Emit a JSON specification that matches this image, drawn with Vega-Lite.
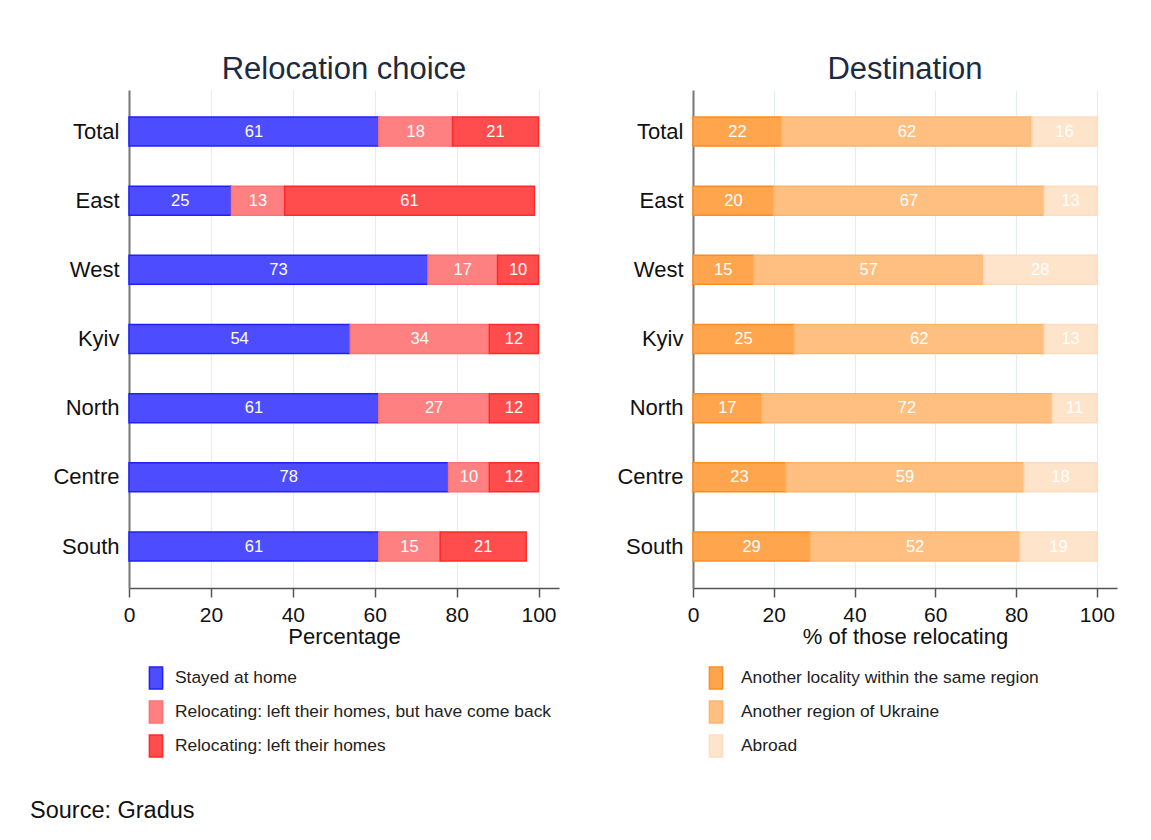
{
  "$schema": "https://vega.github.io/schema/vega-lite/v6.json",
  "background": "white",
  "padding": {"left": 30, "top": 54, "right": 5, "bottom": 5},
  "title": {"text": "Source: Gradus", "orient": "bottom", "anchor": "start", "frame": "group", "fontSize": 23.5, "fontWeight": "normal", "color": "#111111", "offset": 58, "dx": -99, "baseline": "alphabetic"},
  "datasets": {
    "choice": [
      {"region": "Total", "cat": "Stayed at home", "k": 1, "value": 61},
      {"region": "Total", "cat": "Relocating: left their homes, but have come back", "k": 2, "value": 18},
      {"region": "Total", "cat": "Relocating: left their homes", "k": 3, "value": 21},
      {"region": "East", "cat": "Stayed at home", "k": 1, "value": 25},
      {"region": "East", "cat": "Relocating: left their homes, but have come back", "k": 2, "value": 13},
      {"region": "East", "cat": "Relocating: left their homes", "k": 3, "value": 61},
      {"region": "West", "cat": "Stayed at home", "k": 1, "value": 73},
      {"region": "West", "cat": "Relocating: left their homes, but have come back", "k": 2, "value": 17},
      {"region": "West", "cat": "Relocating: left their homes", "k": 3, "value": 10},
      {"region": "Kyiv", "cat": "Stayed at home", "k": 1, "value": 54},
      {"region": "Kyiv", "cat": "Relocating: left their homes, but have come back", "k": 2, "value": 34},
      {"region": "Kyiv", "cat": "Relocating: left their homes", "k": 3, "value": 12},
      {"region": "North", "cat": "Stayed at home", "k": 1, "value": 61},
      {"region": "North", "cat": "Relocating: left their homes, but have come back", "k": 2, "value": 27},
      {"region": "North", "cat": "Relocating: left their homes", "k": 3, "value": 12},
      {"region": "Centre", "cat": "Stayed at home", "k": 1, "value": 78},
      {"region": "Centre", "cat": "Relocating: left their homes, but have come back", "k": 2, "value": 10},
      {"region": "Centre", "cat": "Relocating: left their homes", "k": 3, "value": 12},
      {"region": "South", "cat": "Stayed at home", "k": 1, "value": 61},
      {"region": "South", "cat": "Relocating: left their homes, but have come back", "k": 2, "value": 15},
      {"region": "South", "cat": "Relocating: left their homes", "k": 3, "value": 21}
    ],
    "dest": [
      {"region": "Total", "cat": "Another locality within the same region", "k": 1, "value": 22},
      {"region": "Total", "cat": "Another region of Ukraine", "k": 2, "value": 62},
      {"region": "Total", "cat": "Abroad", "k": 3, "value": 16},
      {"region": "East", "cat": "Another locality within the same region", "k": 1, "value": 20},
      {"region": "East", "cat": "Another region of Ukraine", "k": 2, "value": 67},
      {"region": "East", "cat": "Abroad", "k": 3, "value": 13},
      {"region": "West", "cat": "Another locality within the same region", "k": 1, "value": 15},
      {"region": "West", "cat": "Another region of Ukraine", "k": 2, "value": 57},
      {"region": "West", "cat": "Abroad", "k": 3, "value": 28},
      {"region": "Kyiv", "cat": "Another locality within the same region", "k": 1, "value": 25},
      {"region": "Kyiv", "cat": "Another region of Ukraine", "k": 2, "value": 62},
      {"region": "Kyiv", "cat": "Abroad", "k": 3, "value": 13},
      {"region": "North", "cat": "Another locality within the same region", "k": 1, "value": 17},
      {"region": "North", "cat": "Another region of Ukraine", "k": 2, "value": 72},
      {"region": "North", "cat": "Abroad", "k": 3, "value": 11},
      {"region": "Centre", "cat": "Another locality within the same region", "k": 1, "value": 23},
      {"region": "Centre", "cat": "Another region of Ukraine", "k": 2, "value": 59},
      {"region": "Centre", "cat": "Abroad", "k": 3, "value": 18},
      {"region": "South", "cat": "Another locality within the same region", "k": 1, "value": 29},
      {"region": "South", "cat": "Another region of Ukraine", "k": 2, "value": 52},
      {"region": "South", "cat": "Abroad", "k": 3, "value": 19}
    ]
  },
  "spacing": 57,
  "resolve": {"scale": {"color": "independent", "stroke": "independent", "x": "independent", "y": "independent"}},
  "hconcat": [
    {
      "width": 430,
      "height": 498,
      "data": {"name": "choice"},
      "title": {"text": "Relocation choice"},
      "encoding": {
        "y": {"field": "region", "type": "nominal", "sort": ["Total", "East", "West", "Kyiv", "North", "Centre", "South"], "scale": {"paddingInner": 0.58, "paddingOuter": 0.39}, "axis": {"title": null, "minExtent": 99, "maxExtent": 99}},
        "order": {"field": "k"}
      },
      "layer": [
        {
          "mark": {"type": "bar", "strokeWidth": 1.5},
          "encoding": {
            "x": {"field": "value", "type": "quantitative", "stack": "zero", "scale": {"domain": [0, 105], "nice": false}, "axis": {"values": [0, 20, 40, 60, 80, 100], "title": "Percentage"}},
            "color": {"field": "cat", "type": "nominal", "scale": {"domain": ["Stayed at home", "Relocating: left their homes, but have come back", "Relocating: left their homes"], "range": ["#4d4dff", "#ff8080", "#ff4d4d"]}, "legend": {"orient": "none", "legendX": 15, "legendY": 576, "direction": "vertical", "title": null, "labelOffset": 7}},
            "stroke": {"field": "cat", "type": "nominal", "scale": {"domain": ["Stayed at home", "Relocating: left their homes, but have come back", "Relocating: left their homes"], "range": ["#2020ff", "#ff7070", "#ff2a2a"]}, "legend": {"orient": "none", "legendX": 15, "legendY": 576, "direction": "vertical", "title": null, "labelOffset": 7}}
          }
        },
        {
          "mark": {"type": "text", "color": "white", "fontSize": 16.5, "baseline": "middle"},
          "encoding": {
            "x": {"field": "value", "type": "quantitative", "stack": "zero", "bandPosition": 0.5, "scale": {"domain": [0, 105], "nice": false}, "axis": {"values": [0, 20, 40, 60, 80, 100], "title": "Percentage"}},
            "detail": {"field": "cat"},
            "text": {"field": "value", "type": "quantitative"}
          }
        }
      ]
    },
    {
      "width": 424,
      "height": 498,
      "data": {"name": "dest"},
      "title": {"text": "Destination"},
      "encoding": {
        "y": {"field": "region", "type": "nominal", "sort": ["Total", "East", "West", "Kyiv", "North", "Centre", "South"], "scale": {"paddingInner": 0.58, "paddingOuter": 0.39}, "axis": {"title": null, "minExtent": 76, "maxExtent": 76}},
        "order": {"field": "k"}
      },
      "layer": [
        {
          "mark": {"type": "bar", "strokeWidth": 1.5},
          "encoding": {
            "x": {"field": "value", "type": "quantitative", "stack": "zero", "scale": {"domain": [0, 105], "nice": false}, "axis": {"values": [0, 20, 40, 60, 80, 100], "title": "% of those relocating"}},
            "color": {"field": "cat", "type": "nominal", "scale": {"domain": ["Another locality within the same region", "Another region of Ukraine", "Abroad"], "range": ["#ffa54d", "#ffbf80", "#ffe4cc"]}, "legend": {"orient": "none", "legendX": 11, "legendY": 576, "direction": "vertical", "title": null, "labelOffset": 13}},
            "stroke": {"field": "cat", "type": "nominal", "scale": {"domain": ["Another locality within the same region", "Another region of Ukraine", "Abroad"], "range": ["#ff8c1f", "#ffb46a", "#ffdcbf"]}, "legend": {"orient": "none", "legendX": 11, "legendY": 576, "direction": "vertical", "title": null, "labelOffset": 13}}
          }
        },
        {
          "mark": {"type": "text", "color": "white", "fontSize": 16.5, "baseline": "middle"},
          "encoding": {
            "x": {"field": "value", "type": "quantitative", "stack": "zero", "bandPosition": 0.5, "scale": {"domain": [0, 105], "nice": false}, "axis": {"values": [0, 20, 40, 60, 80, 100], "title": "% of those relocating"}},
            "detail": {"field": "cat"},
            "text": {"field": "value", "type": "quantitative"}
          }
        }
      ]
    }
  ],
  "config": {
    "font": "Liberation Sans",
    "view": {"stroke": null},
    "title": {"fontSize": 31, "fontWeight": "normal", "color": "#1c2b40", "offset": 4, "baseline": "alphabetic", "anchor": "middle"},
    "axisX": {"domainColor": "#555555", "domainWidth": 1.5, "tickColor": "#555555", "tickWidth": 1.5, "tickSize": 9, "labelFontSize": 21, "labelColor": "#111111", "labelPadding": 7, "titleFontSize": 22, "titleFontWeight": "normal", "titleColor": "#111111", "titlePadding": 1, "grid": true, "gridColor": "#e4edf0", "gridWidth": 1.2, "labelFlush": false},
    "axisY": {"domainColor": "#777777", "domainWidth": 2, "ticks": false, "labelFontSize": 22, "labelColor": "#111111", "labelPadding": 10, "grid": false},
    "legend": {"symbolType": "M-0.6,-1H0.6V1H-0.6Z", "symbolSize": 484, "symbolStrokeWidth": 1.5, "labelFontSize": 17.4, "labelColor": "#222222", "rowPadding": 6, "padding": 0, "labelLimit": 500}
  }
}
